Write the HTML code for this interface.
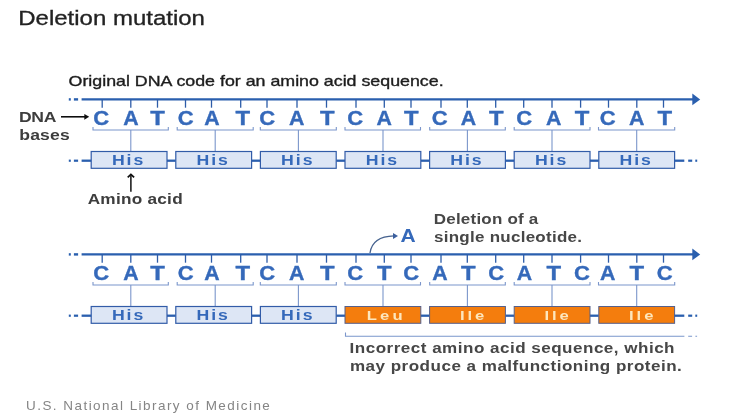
<!DOCTYPE html>
<html><head><meta charset="utf-8"><title>Deletion mutation</title>
<style>
html,body{margin:0;padding:0;background:#fff;}
body{width:744px;height:420px;overflow:hidden;font-family:"Liberation Sans",sans-serif;}
svg{display:block;font-family:"Liberation Sans",sans-serif;}
</style></head><body>
<svg width="744" height="420" viewBox="0 0 744 420">
<defs><filter id="soft" x="0" y="0" width="744" height="420" filterUnits="userSpaceOnUse"><feGaussianBlur stdDeviation="0.6"/></filter></defs>
<rect width="744" height="420" fill="#fff"/>
<g filter="url(#soft)">
<text x="18.3" y="25.3" font-size="19.7" fill="#222" stroke="#222" stroke-width="0.3" textLength="186.6" lengthAdjust="spacingAndGlyphs">Deletion mutation</text>
<text x="68.6" y="86.2" font-size="14.2" fill="#1e1e1e" stroke="#1e1e1e" stroke-width="0.35" textLength="375" lengthAdjust="spacingAndGlyphs">Original DNA code for an amino acid sequence.</text>
<text transform="translate(19.00 122) scale(1.2200 1)" font-size="14.4" font-weight="bold" fill="#3c3c3c" style="letter-spacing:-0.266px">DNA</text>
<text transform="translate(19.30 139.5) scale(1.2200 1)" font-size="14.4" font-weight="bold" fill="#3c3c3c" style="letter-spacing:0.125px">bases</text>
<line x1="61" y1="116.8" x2="86" y2="116.8" stroke="#111" stroke-width="1.6"/>
<path d="M84.3 113.9 L89.2 116.8 L84.3 119.7 Z" fill="#111"/>
<rect x="68.8" y="98.2" width="2" height="2.4" fill="#295eae"/>
<rect x="73.9" y="98.2" width="4.2" height="2.4" fill="#295eae"/>
<line x1="81.6" y1="99.4" x2="693" y2="99.4" stroke="#295eae" stroke-width="2.4"/>
<path d="M692.3 93.60000000000001 L700.2 99.4 L692.3 105.2 Z" fill="#295eae"/>
<line x1="102.2" y1="99.4" x2="102.2" y2="107.7" stroke="#2d5ca8" stroke-width="1.3"/>
<text x="93.25" y="124.60000000000001" font-size="20.4" font-weight="bold" fill="#3569ba" stroke="#3569ba" stroke-width="0.35" textLength="15.90" lengthAdjust="spacingAndGlyphs">C</text>
<line x1="130.8" y1="99.4" x2="130.8" y2="107.7" stroke="#2d5ca8" stroke-width="1.3"/>
<text x="123.35" y="124.60000000000001" font-size="20.4" font-weight="bold" fill="#3569ba" stroke="#3569ba" stroke-width="0.35" textLength="15.40" lengthAdjust="spacingAndGlyphs">A</text>
<line x1="157.5" y1="99.4" x2="157.5" y2="107.7" stroke="#2d5ca8" stroke-width="1.3"/>
<text x="150.20" y="124.60000000000001" font-size="20.4" font-weight="bold" fill="#3569ba" stroke="#3569ba" stroke-width="0.35" textLength="14.60" lengthAdjust="spacingAndGlyphs">T</text>
<line x1="185.5" y1="99.4" x2="185.5" y2="107.7" stroke="#2d5ca8" stroke-width="1.3"/>
<text x="177.75" y="124.60000000000001" font-size="20.4" font-weight="bold" fill="#3569ba" stroke="#3569ba" stroke-width="0.35" textLength="15.90" lengthAdjust="spacingAndGlyphs">C</text>
<line x1="211.5" y1="99.4" x2="211.5" y2="107.7" stroke="#2d5ca8" stroke-width="1.3"/>
<text x="204.15" y="124.60000000000001" font-size="20.4" font-weight="bold" fill="#3569ba" stroke="#3569ba" stroke-width="0.35" textLength="15.40" lengthAdjust="spacingAndGlyphs">A</text>
<line x1="240.7" y1="99.4" x2="240.7" y2="107.7" stroke="#2d5ca8" stroke-width="1.3"/>
<text x="235.40" y="124.60000000000001" font-size="20.4" font-weight="bold" fill="#3569ba" stroke="#3569ba" stroke-width="0.35" textLength="14.60" lengthAdjust="spacingAndGlyphs">T</text>
<line x1="267.0" y1="99.4" x2="267.0" y2="107.7" stroke="#2d5ca8" stroke-width="1.3"/>
<text x="259.25" y="124.60000000000001" font-size="20.4" font-weight="bold" fill="#3569ba" stroke="#3569ba" stroke-width="0.35" textLength="15.90" lengthAdjust="spacingAndGlyphs">C</text>
<line x1="297.0" y1="99.4" x2="297.0" y2="107.7" stroke="#2d5ca8" stroke-width="1.3"/>
<text x="289.05" y="124.60000000000001" font-size="20.4" font-weight="bold" fill="#3569ba" stroke="#3569ba" stroke-width="0.35" textLength="15.40" lengthAdjust="spacingAndGlyphs">A</text>
<line x1="326.5" y1="99.4" x2="326.5" y2="107.7" stroke="#2d5ca8" stroke-width="1.3"/>
<text x="320.10" y="124.60000000000001" font-size="20.4" font-weight="bold" fill="#3569ba" stroke="#3569ba" stroke-width="0.35" textLength="14.60" lengthAdjust="spacingAndGlyphs">T</text>
<line x1="356.0" y1="99.4" x2="356.0" y2="107.7" stroke="#2d5ca8" stroke-width="1.3"/>
<text x="347.25" y="124.60000000000001" font-size="20.4" font-weight="bold" fill="#3569ba" stroke="#3569ba" stroke-width="0.35" textLength="15.90" lengthAdjust="spacingAndGlyphs">C</text>
<line x1="384.3" y1="99.4" x2="384.3" y2="107.7" stroke="#2d5ca8" stroke-width="1.3"/>
<text x="376.55" y="124.60000000000001" font-size="20.4" font-weight="bold" fill="#3569ba" stroke="#3569ba" stroke-width="0.35" textLength="15.40" lengthAdjust="spacingAndGlyphs">A</text>
<line x1="411.0" y1="99.4" x2="411.0" y2="107.7" stroke="#2d5ca8" stroke-width="1.3"/>
<text x="404.00" y="124.60000000000001" font-size="20.4" font-weight="bold" fill="#3569ba" stroke="#3569ba" stroke-width="0.35" textLength="14.60" lengthAdjust="spacingAndGlyphs">T</text>
<line x1="441.0" y1="99.4" x2="441.0" y2="107.7" stroke="#2d5ca8" stroke-width="1.3"/>
<text x="431.85" y="124.60000000000001" font-size="20.4" font-weight="bold" fill="#3569ba" stroke="#3569ba" stroke-width="0.35" textLength="15.90" lengthAdjust="spacingAndGlyphs">C</text>
<line x1="467.3" y1="99.4" x2="467.3" y2="107.7" stroke="#2d5ca8" stroke-width="1.3"/>
<text x="460.75" y="124.60000000000001" font-size="20.4" font-weight="bold" fill="#3569ba" stroke="#3569ba" stroke-width="0.35" textLength="15.40" lengthAdjust="spacingAndGlyphs">A</text>
<line x1="495.7" y1="99.4" x2="495.7" y2="107.7" stroke="#2d5ca8" stroke-width="1.3"/>
<text x="489.10" y="124.60000000000001" font-size="20.4" font-weight="bold" fill="#3569ba" stroke="#3569ba" stroke-width="0.35" textLength="14.60" lengthAdjust="spacingAndGlyphs">T</text>
<line x1="523.7" y1="99.4" x2="523.7" y2="107.7" stroke="#2d5ca8" stroke-width="1.3"/>
<text x="516.25" y="124.60000000000001" font-size="20.4" font-weight="bold" fill="#3569ba" stroke="#3569ba" stroke-width="0.35" textLength="15.90" lengthAdjust="spacingAndGlyphs">C</text>
<line x1="552.0" y1="99.4" x2="552.0" y2="107.7" stroke="#2d5ca8" stroke-width="1.3"/>
<text x="546.05" y="124.60000000000001" font-size="20.4" font-weight="bold" fill="#3569ba" stroke="#3569ba" stroke-width="0.35" textLength="15.40" lengthAdjust="spacingAndGlyphs">A</text>
<line x1="580.6" y1="99.4" x2="580.6" y2="107.7" stroke="#2d5ca8" stroke-width="1.3"/>
<text x="574.80" y="124.60000000000001" font-size="20.4" font-weight="bold" fill="#3569ba" stroke="#3569ba" stroke-width="0.35" textLength="14.60" lengthAdjust="spacingAndGlyphs">T</text>
<line x1="608.5" y1="99.4" x2="608.5" y2="107.7" stroke="#2d5ca8" stroke-width="1.3"/>
<text x="599.65" y="124.60000000000001" font-size="20.4" font-weight="bold" fill="#3569ba" stroke="#3569ba" stroke-width="0.35" textLength="15.90" lengthAdjust="spacingAndGlyphs">C</text>
<line x1="636.8" y1="99.4" x2="636.8" y2="107.7" stroke="#2d5ca8" stroke-width="1.3"/>
<text x="629.05" y="124.60000000000001" font-size="20.4" font-weight="bold" fill="#3569ba" stroke="#3569ba" stroke-width="0.35" textLength="15.40" lengthAdjust="spacingAndGlyphs">A</text>
<line x1="663.5" y1="99.4" x2="663.5" y2="107.7" stroke="#2d5ca8" stroke-width="1.3"/>
<text x="657.60" y="124.60000000000001" font-size="20.4" font-weight="bold" fill="#3569ba" stroke="#3569ba" stroke-width="0.35" textLength="14.60" lengthAdjust="spacingAndGlyphs">T</text>
<path d="M93.0 127.0 V130.0 H168.3 V127.0" fill="none" stroke="#7b96cb" stroke-width="1.1"/>
<line x1="130.8" y1="130.0" x2="130.8" y2="151.5" stroke="#7b96cb" stroke-width="1.1"/>
<line x1="167.0" y1="160.7" x2="175.8" y2="160.7" stroke="#295eae" stroke-width="2.3"/>
<rect x="91.2" y="151.5" width="75.8" height="16.8" fill="#dde6f5" stroke="#315ba8" stroke-width="1.2"/>
<text transform="translate(111.90 164.8) scale(1.2300 1)" font-size="14.4" font-weight="bold" fill="#3569ba" style="letter-spacing:1.561px">His</text>
<path d="M177.2 127.0 V130.0 H253.2 V127.0" fill="none" stroke="#7b96cb" stroke-width="1.1"/>
<line x1="215.2" y1="130.0" x2="215.2" y2="151.5" stroke="#7b96cb" stroke-width="1.1"/>
<line x1="251.6" y1="160.7" x2="260.4" y2="160.7" stroke="#295eae" stroke-width="2.3"/>
<rect x="175.8" y="151.5" width="75.8" height="16.8" fill="#dde6f5" stroke="#315ba8" stroke-width="1.2"/>
<text transform="translate(196.50 164.8) scale(1.2300 1)" font-size="14.4" font-weight="bold" fill="#3569ba" style="letter-spacing:1.561px">His</text>
<path d="M260.3 127.0 V130.0 H336.3 V127.0" fill="none" stroke="#7b96cb" stroke-width="1.1"/>
<line x1="298.4" y1="130.0" x2="298.4" y2="151.5" stroke="#7b96cb" stroke-width="1.1"/>
<line x1="336.2" y1="160.7" x2="345.0" y2="160.7" stroke="#295eae" stroke-width="2.3"/>
<rect x="260.4" y="151.5" width="75.8" height="16.8" fill="#dde6f5" stroke="#315ba8" stroke-width="1.2"/>
<text transform="translate(281.10 164.8) scale(1.2300 1)" font-size="14.4" font-weight="bold" fill="#3569ba" style="letter-spacing:1.561px">His</text>
<path d="M345.0 127.0 V130.0 H420.5 V127.0" fill="none" stroke="#7b96cb" stroke-width="1.1"/>
<line x1="383.0" y1="130.0" x2="383.0" y2="151.5" stroke="#7b96cb" stroke-width="1.1"/>
<line x1="420.8" y1="160.7" x2="429.6" y2="160.7" stroke="#295eae" stroke-width="2.3"/>
<rect x="345.0" y="151.5" width="75.8" height="16.8" fill="#dde6f5" stroke="#315ba8" stroke-width="1.2"/>
<text transform="translate(365.70 164.8) scale(1.2300 1)" font-size="14.4" font-weight="bold" fill="#3569ba" style="letter-spacing:1.561px">His</text>
<path d="M429.7 127.0 V130.0 H505.3 V127.0" fill="none" stroke="#7b96cb" stroke-width="1.1"/>
<line x1="467.4" y1="130.0" x2="467.4" y2="151.5" stroke="#7b96cb" stroke-width="1.1"/>
<line x1="505.4" y1="160.7" x2="514.2" y2="160.7" stroke="#295eae" stroke-width="2.3"/>
<rect x="429.6" y="151.5" width="75.8" height="16.8" fill="#dde6f5" stroke="#315ba8" stroke-width="1.2"/>
<text transform="translate(450.30 164.8) scale(1.2300 1)" font-size="14.4" font-weight="bold" fill="#3569ba" style="letter-spacing:1.561px">His</text>
<path d="M514.2 127.0 V130.0 H590.0 V127.0" fill="none" stroke="#7b96cb" stroke-width="1.1"/>
<line x1="552.0" y1="130.0" x2="552.0" y2="151.5" stroke="#7b96cb" stroke-width="1.1"/>
<line x1="590.0" y1="160.7" x2="598.8" y2="160.7" stroke="#295eae" stroke-width="2.3"/>
<rect x="514.2" y="151.5" width="75.8" height="16.8" fill="#dde6f5" stroke="#315ba8" stroke-width="1.2"/>
<text transform="translate(534.90 164.8) scale(1.2300 1)" font-size="14.4" font-weight="bold" fill="#3569ba" style="letter-spacing:1.561px">His</text>
<path d="M598.5 127.0 V130.0 H674.7 V127.0" fill="none" stroke="#7b96cb" stroke-width="1.1"/>
<line x1="636.7" y1="130.0" x2="636.7" y2="151.5" stroke="#7b96cb" stroke-width="1.1"/>
<rect x="598.8" y="151.5" width="75.8" height="16.8" fill="#dde6f5" stroke="#315ba8" stroke-width="1.2"/>
<text transform="translate(619.50 164.8) scale(1.2300 1)" font-size="14.4" font-weight="bold" fill="#3569ba" style="letter-spacing:1.561px">His</text>
<rect x="68.8" y="159.6" width="2" height="2.2" fill="#295eae"/>
<rect x="73.9" y="159.6" width="4.2" height="2.2" fill="#295eae"/>
<line x1="81.6" y1="160.7" x2="91.2" y2="160.7" stroke="#295eae" stroke-width="2.3"/>
<line x1="674.6" y1="160.7" x2="684.3" y2="160.7" stroke="#295eae" stroke-width="2.3"/>
<rect x="688.2" y="159.6" width="4" height="2.2" fill="#295eae"/>
<rect x="695.3" y="159.6" width="1.9" height="2.2" fill="#295eae"/>
<line x1="130.9" y1="175.5" x2="130.9" y2="191.8" stroke="#111" stroke-width="1.5"/>
<path d="M127.7 177.4 L130.9 174.4 L134.1 177.4" fill="none" stroke="#111" stroke-width="1.7"/>
<text transform="translate(87.70 203.6) scale(1.1800 1)" font-size="14.6" font-weight="bold" fill="#3c3c3c" style="letter-spacing:0.206px">Amino acid</text>
<path d="M370 253 C371.5 242 380 236.3 394 235.9" fill="none" stroke="#46628f" stroke-width="1.3"/>
<path d="M393 232.9 L398 235.9 L393 238.9 Z" fill="#3a5f9e"/>
<text x="400.5" y="241.8" font-size="19" font-weight="bold" fill="#3569ba" textLength="15.2" lengthAdjust="spacingAndGlyphs">A</text>
<text transform="translate(433.80 224.3) scale(1.1800 1)" font-size="14.4" font-weight="bold" fill="#464646" style="letter-spacing:0.183px">Deletion of a</text>
<text transform="translate(434.00 241.7) scale(1.1800 1)" font-size="14.4" font-weight="bold" fill="#464646" style="letter-spacing:0.228px">single nucleotide.</text>
<rect x="68.8" y="253.20000000000002" width="2" height="2.4" fill="#295eae"/>
<rect x="73.9" y="253.20000000000002" width="4.2" height="2.4" fill="#295eae"/>
<line x1="81.6" y1="254.4" x2="693" y2="254.4" stroke="#295eae" stroke-width="2.4"/>
<path d="M692.3 248.6 L700.2 254.4 L692.3 260.2 Z" fill="#295eae"/>
<line x1="102.2" y1="254.4" x2="102.2" y2="262.7" stroke="#2d5ca8" stroke-width="1.3"/>
<text x="93.25" y="279.6" font-size="20.4" font-weight="bold" fill="#3569ba" stroke="#3569ba" stroke-width="0.35" textLength="15.90" lengthAdjust="spacingAndGlyphs">C</text>
<line x1="130.8" y1="254.4" x2="130.8" y2="262.7" stroke="#2d5ca8" stroke-width="1.3"/>
<text x="123.35" y="279.6" font-size="20.4" font-weight="bold" fill="#3569ba" stroke="#3569ba" stroke-width="0.35" textLength="15.40" lengthAdjust="spacingAndGlyphs">A</text>
<line x1="157.5" y1="254.4" x2="157.5" y2="262.7" stroke="#2d5ca8" stroke-width="1.3"/>
<text x="150.20" y="279.6" font-size="20.4" font-weight="bold" fill="#3569ba" stroke="#3569ba" stroke-width="0.35" textLength="14.60" lengthAdjust="spacingAndGlyphs">T</text>
<line x1="185.5" y1="254.4" x2="185.5" y2="262.7" stroke="#2d5ca8" stroke-width="1.3"/>
<text x="177.75" y="279.6" font-size="20.4" font-weight="bold" fill="#3569ba" stroke="#3569ba" stroke-width="0.35" textLength="15.90" lengthAdjust="spacingAndGlyphs">C</text>
<line x1="211.5" y1="254.4" x2="211.5" y2="262.7" stroke="#2d5ca8" stroke-width="1.3"/>
<text x="204.15" y="279.6" font-size="20.4" font-weight="bold" fill="#3569ba" stroke="#3569ba" stroke-width="0.35" textLength="15.40" lengthAdjust="spacingAndGlyphs">A</text>
<line x1="240.7" y1="254.4" x2="240.7" y2="262.7" stroke="#2d5ca8" stroke-width="1.3"/>
<text x="235.40" y="279.6" font-size="20.4" font-weight="bold" fill="#3569ba" stroke="#3569ba" stroke-width="0.35" textLength="14.60" lengthAdjust="spacingAndGlyphs">T</text>
<line x1="267.0" y1="254.4" x2="267.0" y2="262.7" stroke="#2d5ca8" stroke-width="1.3"/>
<text x="259.25" y="279.6" font-size="20.4" font-weight="bold" fill="#3569ba" stroke="#3569ba" stroke-width="0.35" textLength="15.90" lengthAdjust="spacingAndGlyphs">C</text>
<line x1="297.0" y1="254.4" x2="297.0" y2="262.7" stroke="#2d5ca8" stroke-width="1.3"/>
<text x="289.05" y="279.6" font-size="20.4" font-weight="bold" fill="#3569ba" stroke="#3569ba" stroke-width="0.35" textLength="15.40" lengthAdjust="spacingAndGlyphs">A</text>
<line x1="326.5" y1="254.4" x2="326.5" y2="262.7" stroke="#2d5ca8" stroke-width="1.3"/>
<text x="320.10" y="279.6" font-size="20.4" font-weight="bold" fill="#3569ba" stroke="#3569ba" stroke-width="0.35" textLength="14.60" lengthAdjust="spacingAndGlyphs">T</text>
<line x1="356.0" y1="254.4" x2="356.0" y2="262.7" stroke="#2d5ca8" stroke-width="1.3"/>
<text x="347.25" y="279.6" font-size="20.4" font-weight="bold" fill="#3569ba" stroke="#3569ba" stroke-width="0.35" textLength="15.90" lengthAdjust="spacingAndGlyphs">C</text>
<line x1="384.3" y1="254.4" x2="384.3" y2="262.7" stroke="#2d5ca8" stroke-width="1.3"/>
<text x="376.90" y="279.6" font-size="20.4" font-weight="bold" fill="#3569ba" stroke="#3569ba" stroke-width="0.35" textLength="14.60" lengthAdjust="spacingAndGlyphs">T</text>
<line x1="411.0" y1="254.4" x2="411.0" y2="262.7" stroke="#2d5ca8" stroke-width="1.3"/>
<text x="403.25" y="279.6" font-size="20.4" font-weight="bold" fill="#3569ba" stroke="#3569ba" stroke-width="0.35" textLength="15.90" lengthAdjust="spacingAndGlyphs">C</text>
<line x1="441.0" y1="254.4" x2="441.0" y2="262.7" stroke="#2d5ca8" stroke-width="1.3"/>
<text x="432.25" y="279.6" font-size="20.4" font-weight="bold" fill="#3569ba" stroke="#3569ba" stroke-width="0.35" textLength="15.40" lengthAdjust="spacingAndGlyphs">A</text>
<line x1="467.3" y1="254.4" x2="467.3" y2="262.7" stroke="#2d5ca8" stroke-width="1.3"/>
<text x="461.10" y="279.6" font-size="20.4" font-weight="bold" fill="#3569ba" stroke="#3569ba" stroke-width="0.35" textLength="14.60" lengthAdjust="spacingAndGlyphs">T</text>
<line x1="495.7" y1="254.4" x2="495.7" y2="262.7" stroke="#2d5ca8" stroke-width="1.3"/>
<text x="488.35" y="279.6" font-size="20.4" font-weight="bold" fill="#3569ba" stroke="#3569ba" stroke-width="0.35" textLength="15.90" lengthAdjust="spacingAndGlyphs">C</text>
<line x1="523.7" y1="254.4" x2="523.7" y2="262.7" stroke="#2d5ca8" stroke-width="1.3"/>
<text x="516.65" y="279.6" font-size="20.4" font-weight="bold" fill="#3569ba" stroke="#3569ba" stroke-width="0.35" textLength="15.40" lengthAdjust="spacingAndGlyphs">A</text>
<line x1="552.0" y1="254.4" x2="552.0" y2="262.7" stroke="#2d5ca8" stroke-width="1.3"/>
<text x="546.40" y="279.6" font-size="20.4" font-weight="bold" fill="#3569ba" stroke="#3569ba" stroke-width="0.35" textLength="14.60" lengthAdjust="spacingAndGlyphs">T</text>
<line x1="580.6" y1="254.4" x2="580.6" y2="262.7" stroke="#2d5ca8" stroke-width="1.3"/>
<text x="574.05" y="279.6" font-size="20.4" font-weight="bold" fill="#3569ba" stroke="#3569ba" stroke-width="0.35" textLength="15.90" lengthAdjust="spacingAndGlyphs">C</text>
<line x1="608.5" y1="254.4" x2="608.5" y2="262.7" stroke="#2d5ca8" stroke-width="1.3"/>
<text x="600.05" y="279.6" font-size="20.4" font-weight="bold" fill="#3569ba" stroke="#3569ba" stroke-width="0.35" textLength="15.40" lengthAdjust="spacingAndGlyphs">A</text>
<line x1="636.8" y1="254.4" x2="636.8" y2="262.7" stroke="#2d5ca8" stroke-width="1.3"/>
<text x="629.40" y="279.6" font-size="20.4" font-weight="bold" fill="#3569ba" stroke="#3569ba" stroke-width="0.35" textLength="14.60" lengthAdjust="spacingAndGlyphs">T</text>
<line x1="663.5" y1="254.4" x2="663.5" y2="262.7" stroke="#2d5ca8" stroke-width="1.3"/>
<text x="656.85" y="279.6" font-size="20.4" font-weight="bold" fill="#3569ba" stroke="#3569ba" stroke-width="0.35" textLength="15.90" lengthAdjust="spacingAndGlyphs">C</text>
<path d="M93.0 282.0 V285.0 H168.3 V282.0" fill="none" stroke="#7b96cb" stroke-width="1.1"/>
<line x1="130.8" y1="285.0" x2="130.8" y2="306.5" stroke="#7b96cb" stroke-width="1.1"/>
<line x1="167.0" y1="315.7" x2="175.8" y2="315.7" stroke="#295eae" stroke-width="2.3"/>
<rect x="91.2" y="306.5" width="75.8" height="16.8" fill="#dde6f5" stroke="#315ba8" stroke-width="1.2"/>
<text transform="translate(111.90 319.8) scale(1.2300 1)" font-size="14.4" font-weight="bold" fill="#3569ba" style="letter-spacing:1.561px">His</text>
<path d="M177.2 282.0 V285.0 H253.2 V282.0" fill="none" stroke="#7b96cb" stroke-width="1.1"/>
<line x1="215.2" y1="285.0" x2="215.2" y2="306.5" stroke="#7b96cb" stroke-width="1.1"/>
<line x1="251.6" y1="315.7" x2="260.4" y2="315.7" stroke="#295eae" stroke-width="2.3"/>
<rect x="175.8" y="306.5" width="75.8" height="16.8" fill="#dde6f5" stroke="#315ba8" stroke-width="1.2"/>
<text transform="translate(196.50 319.8) scale(1.2300 1)" font-size="14.4" font-weight="bold" fill="#3569ba" style="letter-spacing:1.561px">His</text>
<path d="M260.3 282.0 V285.0 H336.3 V282.0" fill="none" stroke="#7b96cb" stroke-width="1.1"/>
<line x1="298.4" y1="285.0" x2="298.4" y2="306.5" stroke="#7b96cb" stroke-width="1.1"/>
<line x1="336.2" y1="315.7" x2="345.0" y2="315.7" stroke="#295eae" stroke-width="2.3"/>
<rect x="260.4" y="306.5" width="75.8" height="16.8" fill="#dde6f5" stroke="#315ba8" stroke-width="1.2"/>
<text transform="translate(281.10 319.8) scale(1.2300 1)" font-size="14.4" font-weight="bold" fill="#3569ba" style="letter-spacing:1.561px">His</text>
<path d="M345.0 282.0 V285.0 H420.5 V282.0" fill="none" stroke="#7b96cb" stroke-width="1.1"/>
<line x1="383.0" y1="285.0" x2="383.0" y2="306.5" stroke="#7b96cb" stroke-width="1.1"/>
<line x1="420.8" y1="315.7" x2="429.6" y2="315.7" stroke="#295eae" stroke-width="2.3"/>
<rect x="345.0" y="306.5" width="75.8" height="16.8" fill="#f47d08" stroke="#55608c" stroke-width="1"/>
<text transform="translate(366.80 320.0) scale(1.3000 1)" font-size="12.8" font-weight="bold" fill="#fde6bd" style="letter-spacing:2.386px">Leu</text>
<path d="M429.7 282.0 V285.0 H505.3 V282.0" fill="none" stroke="#7b96cb" stroke-width="1.1"/>
<line x1="467.4" y1="285.0" x2="467.4" y2="306.5" stroke="#7b96cb" stroke-width="1.1"/>
<line x1="505.4" y1="315.7" x2="514.2" y2="315.7" stroke="#295eae" stroke-width="2.3"/>
<rect x="429.6" y="306.5" width="75.8" height="16.8" fill="#f47d08" stroke="#55608c" stroke-width="1"/>
<text transform="translate(459.90 320.0) scale(1.3000 1)" font-size="12.8" font-weight="bold" fill="#fde6bd" style="letter-spacing:2.229px">Ile</text>
<path d="M514.2 282.0 V285.0 H590.0 V282.0" fill="none" stroke="#7b96cb" stroke-width="1.1"/>
<line x1="552.0" y1="285.0" x2="552.0" y2="306.5" stroke="#7b96cb" stroke-width="1.1"/>
<line x1="590.0" y1="315.7" x2="598.8" y2="315.7" stroke="#295eae" stroke-width="2.3"/>
<rect x="514.2" y="306.5" width="75.8" height="16.8" fill="#f47d08" stroke="#55608c" stroke-width="1"/>
<text transform="translate(544.50 320.0) scale(1.3000 1)" font-size="12.8" font-weight="bold" fill="#fde6bd" style="letter-spacing:2.229px">Ile</text>
<path d="M598.5 282.0 V285.0 H674.7 V282.0" fill="none" stroke="#7b96cb" stroke-width="1.1"/>
<line x1="636.7" y1="285.0" x2="636.7" y2="306.5" stroke="#7b96cb" stroke-width="1.1"/>
<rect x="598.8" y="306.5" width="75.8" height="16.8" fill="#f47d08" stroke="#55608c" stroke-width="1"/>
<text transform="translate(629.10 320.0) scale(1.3000 1)" font-size="12.8" font-weight="bold" fill="#fde6bd" style="letter-spacing:2.229px">Ile</text>
<rect x="68.8" y="314.59999999999997" width="2" height="2.2" fill="#295eae"/>
<rect x="73.9" y="314.59999999999997" width="4.2" height="2.2" fill="#295eae"/>
<line x1="81.6" y1="315.7" x2="91.2" y2="315.7" stroke="#295eae" stroke-width="2.3"/>
<line x1="674.6" y1="315.7" x2="684.3" y2="315.7" stroke="#295eae" stroke-width="2.3"/>
<rect x="688.2" y="314.59999999999997" width="4" height="2.2" fill="#295eae"/>
<rect x="695.3" y="314.59999999999997" width="1.9" height="2.2" fill="#295eae"/>
<path d="M345.5 332.5 V336.3 H684.4" fill="none" stroke="#7b96cb" stroke-width="1.1"/>
<path d="M688.2 336.3 H692.1 M695.4 336.3 H697.1" fill="none" stroke="#7b96cb" stroke-width="1.1"/>
<text transform="translate(349.60 352.6) scale(1.2100 1)" font-size="14.1" font-weight="bold" fill="#464646" style="letter-spacing:0.401px">Incorrect amino acid sequence, which</text>
<text transform="translate(349.90 370.6) scale(1.2100 1)" font-size="14.1" font-weight="bold" fill="#464646" style="letter-spacing:0.400px">may produce a malfunctioning protein.</text>
<text transform="translate(26.00 409.5) scale(1.0800 1)" font-size="12.5" font-weight="normal" fill="#858585" style="letter-spacing:1.350px">U.S. National Library of Medicine</text>
</g>
</svg>
</body></html>
